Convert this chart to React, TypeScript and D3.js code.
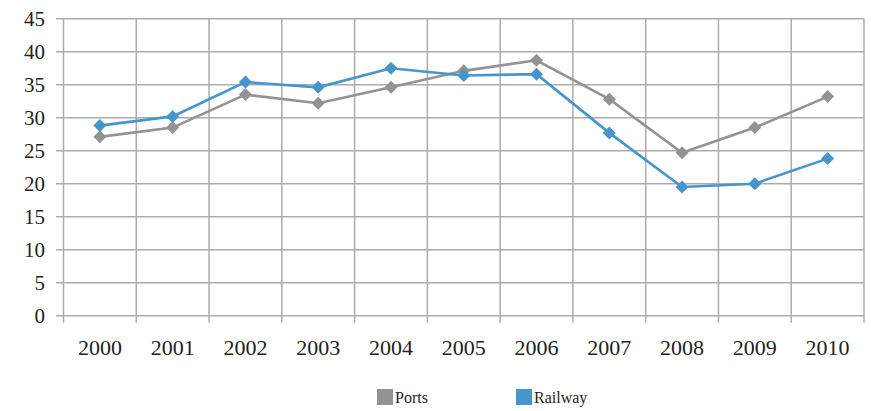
import React from "react";
import * as d3 from "d3";

const years = ["2000","2001","2002","2003","2004","2005","2006","2007","2008","2009","2010"];
const ports = [27.1, 28.5, 33.5, 32.2, 34.6, 37.1, 38.7, 32.8, 24.7, 28.5, 33.2];
const railway = [28.8, 30.2, 35.4, 34.6, 37.5, 36.4, 36.6, 27.7, 19.5, 20.0, 23.8];
const yTicks = [0, 5, 10, 15, 20, 25, 30, 35, 40, 45];
const seriesNames = ["Ports", "Railway"];
const colors = ["#939396", "#4596cd"];

export default function App() {
  const W = 871, H = 411;
  const left = 63.5, right = 864, top = 18.7, bottom = 315.7;
  const x = d3.scaleBand<string>().domain(years).range([left, right]);
  const y = d3.scaleLinear().domain([0, 45]).range([bottom, top]);
  const font = "Liberation Serif";
  const textColor = "#231f20";
  const grid = "#acacac";
  const line = d3.line<number>()
    .x((_, i) => (x(years[i]) as number) + x.bandwidth() / 2)
    .y((d) => y(d));
  const data = [ports, railway];
  const diamond = (cx: number, cy: number, r: number) =>
    `M${cx},${cy - r}L${cx + r},${cy}L${cx},${cy + r}L${cx - r},${cy}Z`;
  const boundaries = years.map((yr) => x(yr) as number).concat([right]);

  return (
    <svg width={W} height={H} style={{ position: "absolute", left: 0, top: 0, background: "#fff", fontFamily: font }}>
      {yTicks.map((t) => (
        <line key={"h" + t} x1={56} x2={right} y1={y(t)} y2={y(t)} stroke={grid} strokeWidth={1.5} />
      ))}
      {boundaries.map((b, i) => (
        <line key={"v" + i} x1={b} x2={b} y1={top} y2={bottom + 7} stroke={grid} strokeWidth={1.5} />
      ))}
      {yTicks.map((t) => (
        <text key={"yl" + t} x={45} y={y(t)} dy="0.35em" textAnchor="end" style={{ fontFamily: font }} fontSize={21} fill={textColor}>
          {t}
        </text>
      ))}
      {years.map((yr) => (
        <text key={"xl" + yr} x={(x(yr) as number) + x.bandwidth() / 2} y={355} textAnchor="middle" style={{ fontFamily: font }} fontSize={22} fill={textColor}>
          {yr}
        </text>
      ))}
      {data.map((s, si) => (
        <g key={"s" + si}>
          <path d={line(s) || ""} fill="none" stroke={colors[si]} strokeWidth={2.6} />
          {s.map((v, i) => (
            <path key={i} d={diamond((x(years[i]) as number) + x.bandwidth() / 2, y(v), 6.5)} fill={colors[si]} />
          ))}
        </g>
      ))}
      {seriesNames.map((n, i) => {
        const lx = i === 0 ? 377 : 516;
        return (
          <g key={"lg" + n}>
            <rect x={lx} y={389} width={16} height={16} fill={colors[i]} />
            <text x={lx + 18} y={403} style={{ fontFamily: font }} fontSize={16} fill={textColor}>{n}</text>
          </g>
        );
      })}
    </svg>
  );
}
